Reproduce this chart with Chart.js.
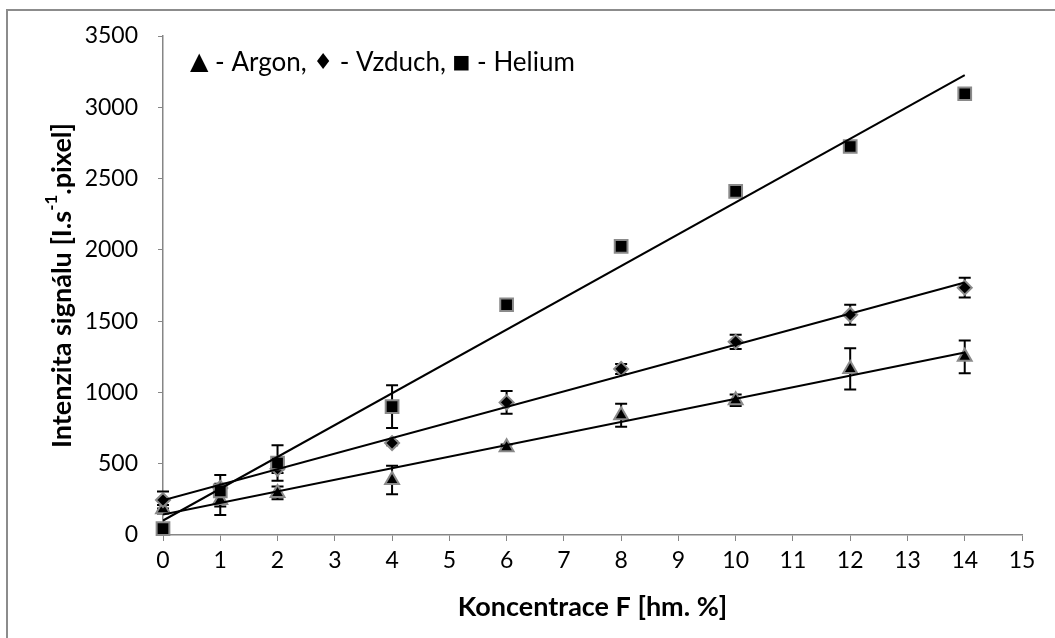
<!DOCTYPE html>
<html>
<head>
<meta charset="utf-8">
<script src="https://cdn.jsdelivr.net/npm/chart.js@4.4.0/dist/chart.umd.min.js"></script>
<style>
  html, body { margin: 0; padding: 0; background: #fff; }
  #wrap { width: 1055px; height: 638px; position: relative; }
</style>
</head>
<body>
<div id="wrap"><canvas id="chart"></canvas></div>
<script>
// Koncentrace F [hm. %]
const concentrations = [0, 1, 2, 4, 6, 8, 10, 12, 14];

// Intenzita signálu pro jednotlivé plyny
const argon  = [180, 245, 295, 385, 615, 840, 945, 1165, 1250];
const vzduch = [245, 330, 465, 645, 930, 1165, 1355, 1545, 1735];
const helium = [45, 310, 505, 900, 1615, 2025, 2410, 2725, 3095];

// Směrodatné odchylky (chybové úsečky)
const argonErr  = [30, 105, 45, 100, 20, 80, 40, 145, 115];
const vzduchErr = [60, 30, 30, 15, 80, 35, 50, 70, 70];
const heliumErr = [15, 110, 125, 150, 15, 15, 30, 15, 15];

const xRange = [0, 15];
const yRange = [0, 3500];

const FONT = 'Lato';
const AXIS_GRAY = '#868686';

function points(ys) {
    return concentrations.map((x, i) => ({ x: x, y: ys[i] }));
}

// least-squares trendline across the measured range
function trendline(ys) {
    const n = concentrations.length;
    const mx = concentrations.reduce((a, b) => a + b, 0) / n;
    const my = ys.reduce((a, b) => a + b, 0) / n;
    let sxy = 0, sxx = 0;
    concentrations.forEach((x, i) => {
        sxy += (x - mx) * (ys[i] - my);
        sxx += (x - mx) * (x - mx);
    });
    const k = sxy / sxx;
    const q = my - k * mx;
    const x0 = concentrations[0], x1 = concentrations[n - 1];
    return [{ x: x0, y: q + k * x0 }, { x: x1, y: q + k * x1 }];
}

function trendSet(ys) {
    return {
        data: trendline(ys),
        showLine: true,
        borderColor: '#000',
        borderWidth: 2,
        pointRadius: 0,
        order: 0
    };
}

function markerSet(label, ys, errs, style, radius, order) {
    return {
        label: label,
        data: points(ys),
        errors: errs,
        pointStyle: style,
        pointRadius: radius,
        backgroundColor: '#000',
        borderColor: '#8a8a8a',
        borderWidth: 2,
        clip: false,
        order: order
    };
}

// vertical error bars with caps, drawn under the markers
const errorBars = {
    id: 'errorBars',
    beforeDatasetsDraw(chart) {
        const { ctx, scales: { x, y } } = chart;
        ctx.save();
        ctx.strokeStyle = '#000';
        ctx.lineWidth = 2;
        chart.data.datasets.forEach(ds => {
            if (!ds.errors) return;
            ds.data.forEach((p, i) => {
                const e = ds.errors[i];
                const px = x.getPixelForValue(p.x);
                const top = y.getPixelForValue(p.y + e);
                const bot = y.getPixelForValue(p.y - e);
                ctx.beginPath();
                ctx.moveTo(px, top); ctx.lineTo(px, bot);
                ctx.moveTo(px - 6, top); ctx.lineTo(px + 6, top);
                ctx.moveTo(px - 6, bot); ctx.lineTo(px + 6, bot);
                ctx.stroke();
            });
        });
        ctx.restore();
    }
};

// frame, legend text and the rotated y title (with superscript)
const decorations = {
    id: 'decorations',
    beforeDraw(chart) {
        const ctx = chart.ctx;
        ctx.save();
        ctx.fillStyle = '#fff';
        ctx.fillRect(0, 0, chart.width, chart.height);
        ctx.strokeStyle = '#8c8c8c';
        ctx.lineWidth = 2;
        ctx.beginPath();
        ctx.moveTo(7, chart.height + 5);
        ctx.lineTo(7, 10);
        ctx.lineTo(chart.width + 5, 10);
        ctx.stroke();
        ctx.restore();
    },
    afterDraw(chart) {
        const ctx = chart.ctx;
        const area = chart.chartArea;
        ctx.save();
        ctx.fillStyle = '#000';
        ctx.textBaseline = 'middle';

        // legend written as a single line of text, symbols in a fallback font
        const legend = [
            { t: '▲', f: '24px "DejaVu Sans"' },
            { t: ' - Argon, ', f: '26px ' + FONT },
            { t: '♦', f: '22px "DejaVu Sans"' },
            { t: ' - Vzduch, ', f: '26px ' + FONT },
            { t: '■', f: '19px "DejaVu Sans"' },
            { t: ' - Helium', f: '26px ' + FONT }
        ];
        let lx = area.left + 27;
        legend.forEach(p => {
            ctx.font = p.f;
            ctx.fillText(p.t, lx, 63);
            lx += ctx.measureText(p.t).width;
        });

        // y title, centred on the plot area
        const big = 'bold 27px ' + FONT;
        const small = 'bold 17px ' + FONT;
        const parts = [
            { t: 'Intenzita signálu [I.s', f: big, dy: 0 },
            { t: '-1', f: small, dy: -10 },
            { t: '.pixel]', f: big, dy: 0 }
        ];
        let total = 0;
        parts.forEach(p => { ctx.font = p.f; p.w = ctx.measureText(p.t).width; total += p.w; });
        ctx.translate(62, (area.top + area.bottom) / 2);
        ctx.rotate(-Math.PI / 2);
        let cx = -total / 2;
        parts.forEach(p => {
            ctx.font = p.f;
            ctx.fillText(p.t, cx, p.dy);
            cx += p.w;
        });
        ctx.restore();
    }
};

new Chart(document.getElementById('chart'), {
    type: 'scatter',
    data: {
        datasets: [
            trendSet(helium),
            trendSet(vzduch),
            trendSet(argon),
            markerSet('Helium', helium, heliumErr, 'rect', 9, 1),
            markerSet('Vzduch', vzduch, vzduchErr, 'rectRot', 7, 2),
            markerSet('Argon', argon, argonErr, 'triangle', 8, 3)
        ]
    },
    plugins: [decorations, errorBars],
    options: {
        responsive: true,
        maintainAspectRatio: false,
        animation: false,
        layout: { padding: { top: 36, right: 33, left: 0, bottom: 0 } },
        plugins: {
            legend: { display: false },
            tooltip: { enabled: false }
        },
        scales: {
            x: {
                type: 'linear',
                min: xRange[0],
                max: xRange[1],
                afterFit: s => { s.height = 103; },
                ticks: { stepSize: 1, color: '#000', padding: 6, callback: v => String(v), font: { family: FONT, size: 23 } },
                grid: { drawOnChartArea: false, tickLength: 6, color: AXIS_GRAY },
                border: { color: AXIS_GRAY, width: 1.5 },
                title: {
                    display: true,
                    text: 'Koncentrace F [hm. %]',
                    color: '#000',
                    font: { family: FONT, size: 27, weight: 'bold' },
                    padding: { top: 0, bottom: 15 }
                }
            },
            y: {
                min: yRange[0],
                max: yRange[1],
                afterFit: s => { s.width = 163; },
                ticks: { stepSize: 500, color: '#000', padding: 20, callback: v => String(v), font: { family: FONT, size: 23 } },
                grid: { drawOnChartArea: false, tickLength: 5, color: AXIS_GRAY },
                border: { color: AXIS_GRAY, width: 1.5 }
            }
        }
    }
});
</script>
</body>
</html>
